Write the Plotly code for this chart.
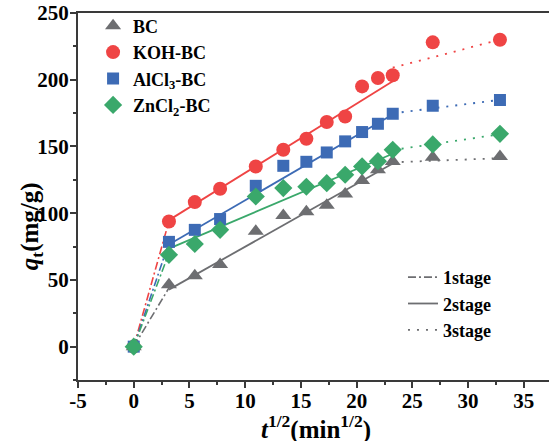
import plotly.graph_objects as go

# ---------------- data ----------------
sqrt_t = [0, 3.16, 5.48, 7.75, 10.95, 13.42, 15.49, 17.32, 18.97, 20.49, 21.91, 23.24, 26.83, 32.86]

qt_BC = [0, 46.3, 53.2, 61.5, 86.5, 98.2, 101.0, 106.0, 114.4, 124.4, 132.5, 138.8, 142.0, 142.5]
qt_KOH = [0, 93.8, 108.3, 118.3, 135.0, 147.5, 155.8, 168.3, 172.5, 195.0, 201.3, 203.3, 228.0, 230.0]
qt_AlCl3 = [0, 78.5, 87.5, 95.6, 120.5, 135.5, 138.5, 145.5, 153.8, 160.8, 167.0, 174.5, 180.5, 184.8]
qt_ZnCl2 = [0, 68.8, 76.9, 87.5, 112.5, 118.8, 119.8, 122.5, 128.8, 135.0, 139.0, 147.5, 151.5, 159.5]

# fitted segments (end points of each intra-particle diffusion stage)
stage1_x = [0, 3.16]
stage2_x = [3.16, 23.24]
stage3_x = [23.24, 32.86]

fit_BC = {"s1": [0, 44.0], "s2": [42.7, 137.2], "s3": [138.1, 141.2]}
fit_KOH = {"s1": [0, 94.0], "s2": [94.8, 198.8], "s3": [209.0, 230.0]}
fit_AlCl3 = {"s1": [0, 78.0], "s2": [76.5, 174.0], "s3": [174.8, 184.9]}
fit_ZnCl2 = {"s1": [0, 70.0], "s2": [73.5, 144.5], "s3": [147.3, 159.1]}

series_names = ["BC", "KOH-BC", "AlCl<sub>3</sub>-BC", "ZnCl<sub>2</sub>-BC"]
stage_names = ["1stage", "2stage", "3stage"]

x_tickvals = [-5, 0, 5, 10, 15, 20, 25, 30, 35]
x_ticktext = ["-5", "0", "5", "10", "15", "20", "25", "30", "35"]
y_tickvals = [0, 50, 100, 150, 200, 250]
y_ticktext = ["0", "50", "100", "150", "200", "250"]

# ---------------- style ----------------
colors = ["#6d6e71", "#ef4444", "#3d6bb5", "#3aa86b"]
symbols = ["triangle-up", "circle", "square", "diamond"]
sizes = [14, 14, 12, 14]
FONT = "Liberation Serif, Times New Roman, serif"
DASHDOT = "8px,3px,2px,3px"
DOT = "2px,7px"

fig = go.Figure()

qts = [qt_BC, qt_KOH, qt_AlCl3, qt_ZnCl2]
fits = [fit_BC, fit_KOH, fit_AlCl3, fit_ZnCl2]

# fit lines first (under markers)
for c, f in zip(colors, fits):
    fig.add_trace(go.Scatter(x=stage1_x, y=f["s1"], mode="lines", showlegend=False,
                             line=dict(color=c, width=1.6, dash=DASHDOT)))
    fig.add_trace(go.Scatter(x=stage2_x, y=f["s2"], mode="lines", showlegend=False,
                             line=dict(color=c, width=1.8)))
    fig.add_trace(go.Scatter(x=stage3_x, y=f["s3"], mode="lines", showlegend=False,
                             line=dict(color=c, width=1.8, dash=DOT)))

for name, q, c, s, sz in zip(series_names, qts, colors, symbols, sizes):
    fig.add_trace(go.Scatter(x=sqrt_t, y=q, mode="markers", name=name,
                             marker=dict(color=c, symbol=s, size=sz, line=dict(width=0)),
                             legend="legend"))

# stage legend entries
for nm, dash in zip(stage_names, [DASHDOT, "solid", DOT]):
    fig.add_trace(go.Scatter(x=[None], y=[None], mode="lines", name=nm,
                             line=dict(color="#6d6e71", width=1.8, dash=dash),
                             legend="legend2"))

axis_common = dict(showgrid=False, zeroline=False, showline=True, linecolor="#3a3a3a",
                   linewidth=2, ticks="outside", ticklen=6, tickwidth=1.5, tickcolor="#3a3a3a",
                   tickfont=dict(family=FONT, size=21, color="black", weight="bold"))

fig.update_layout(
    width=549, height=441,
    margin=dict(l=78, r=0, t=13, b=61),
    paper_bgcolor="white", plot_bgcolor="white",
    font=dict(family=FONT, color="black"),
    xaxis=dict(range=[-5, 37.26], tickvals=x_tickvals, ticktext=x_ticktext, mirror=True,
               ticklabelstandoff=-5,
               minor=dict(dtick=2.5, tick0=0, ticks="outside", ticklen=3, tickcolor="#3a3a3a"),
               **axis_common),
    yaxis=dict(range=[-25, 250], tickvals=y_tickvals, ticktext=y_ticktext,
               ticklabelstandoff=-3,
               minor=dict(dtick=25, tick0=0, ticks="outside", ticklen=3, tickcolor="#3a3a3a"),
               **axis_common),
    legend=dict(x=0.032, y=1.015, xanchor="left", yanchor="top", bgcolor="rgba(0,0,0,0)",
                font=dict(family=FONT, size=18, color="black", weight="bold"),
                itemsizing="trace", tracegroupgap=0),
    legend2=dict(x=0.69, y=0.33, xanchor="left", yanchor="top", bgcolor="rgba(0,0,0,0)",
                 font=dict(family=FONT, size=18, color="black", weight="bold")),
    annotations=[
        dict(text="<i>q</i><sub>t</sub>(mg/g)", xref="paper", yref="paper",
             x=(31 - 78) / 471, y=(380.1 - 226) / 367.6, xanchor="center", yanchor="middle",
             showarrow=False, textangle=-90,
             font=dict(family=FONT, size=25, color="black", weight="bold")),
        dict(text="<i>t</i><sup>1/2</sup>(min<sup>1/2</sup>)", xref="paper", yref="paper",
             x=(316 - 78) / 471, y=-(428 - 380.1) / 367.6, xanchor="center", yanchor="middle",
             showarrow=False,
             font=dict(family=FONT, size=25, color="black", weight="bold")),
    ],
)

fig.write_html("out.html")
